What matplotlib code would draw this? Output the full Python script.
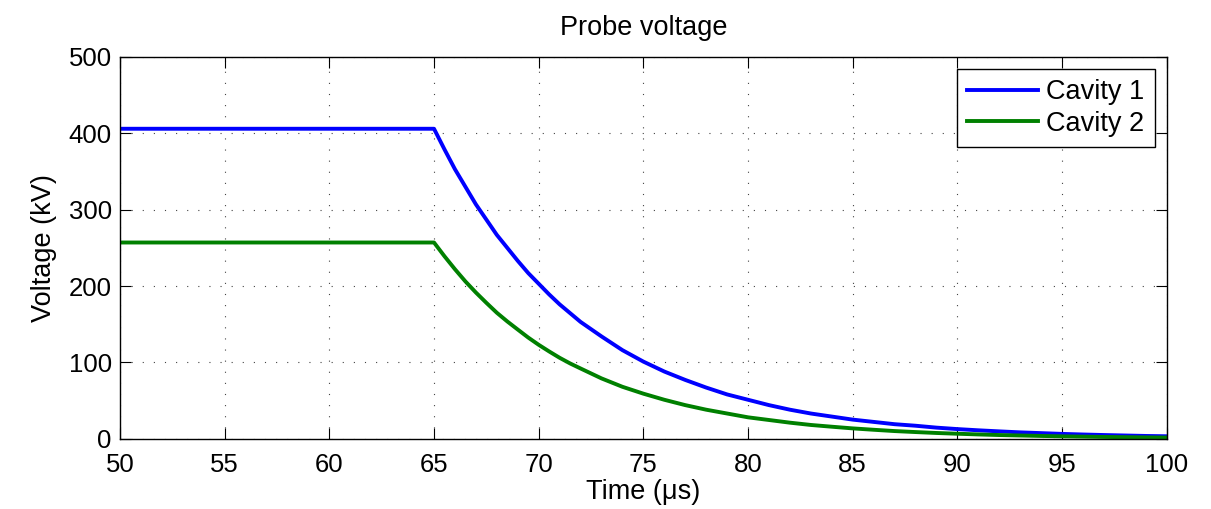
import numpy as np
import matplotlib
matplotlib.use("Agg")
import matplotlib.pyplot as plt

# Values (time in us, voltage in kV)
time_us = [50, 55, 60, 65, 65.5, 66, 66.5, 67, 67.5, 68, 68.5, 69, 69.5, 70, 70.5, 71, 71.5,
           72, 73, 74, 75, 76, 77, 78, 79, 80, 81, 82, 83, 84, 85, 86, 87, 88, 89, 90,
           91, 92, 93, 94, 95, 96, 97, 98, 99, 100]
cavity1_kv = [406, 406, 406, 406, 379, 353, 330, 307, 287, 267, 250, 233, 217, 203, 189,
              176, 164.5, 153, 134, 116, 101, 88, 77, 67, 58, 51, 44, 38, 33, 29, 25, 22,
              19, 17, 14.5, 12.6, 11, 9.6, 8.3, 7.3, 6.3, 5.5, 4.8, 4.2, 3.6, 3.2]
cavity2_kv = [257, 257, 257, 257, 239, 222, 206, 191.5, 178, 165, 153.6, 143, 132.5, 123,
              114.3, 106, 98.6, 92, 79, 68, 59, 51, 44, 38, 33, 28, 24.5, 21, 18, 15.7,
              13.5, 11.7, 10, 8.7, 7.5, 6.5, 5.6, 4.8, 4.2, 3.6, 3.1, 2.7, 2.3, 2.0, 1.7, 1.5]
series_names = ["Cavity 1", "Cavity 2"]
x_ticks = [50, 55, 60, 65, 70, 75, 80, 85, 90, 95, 100]
y_ticks = [0, 100, 200, 300, 400, 500]

plt.rcParams["font.family"] = ["Liberation Sans", "DejaVu Sans"]

fig = plt.figure(figsize=(12.11, 5.09), dpi=100)
ax = fig.add_axes([120 / 1211, 1 - 438.7 / 509, 1046.7 / 1211, 381.7 / 509])

ax.plot(time_us, cavity1_kv, color="#0000ff", lw=2.8, label=series_names[0])
ax.plot(time_us, cavity2_kv, color="#008000", lw=2.8, label=series_names[1])

ax.set_xlim(50, 100)
ax.set_ylim(0, 500)
ax.set_xticks(x_ticks)
ax.set_yticks(y_ticks)
ax.grid(True, linestyle=(0, (1, 9)), color="#444444", lw=0.8)
ax.tick_params(direction="in", top=True, right=True, length=7.7, width=0.8,
               labelsize=18.5)
ax.tick_params(axis="y", pad=6)
ax.tick_params(axis="x", pad=10)
for sp in ax.spines.values():
    sp.set_linewidth(1.0)

ax.set_xlabel("Time (\u03bcs)", fontsize=19.5, labelpad=2)
ax.set_ylabel("Voltage (kV)", fontsize=19.5, labelpad=8)
ax.set_title("Probe voltage", fontsize=19.5, pad=16)

leg = ax.legend(loc="upper right", fontsize=19.5, frameon=True, fancybox=False,
                edgecolor="black", framealpha=1, handlelength=2.6, handletextpad=0.3,
                borderaxespad=0.45, borderpad=0.38, labelspacing=0.2)
leg.get_frame().set_linewidth(1.0)

fig.savefig("out.png", dpi=100)
